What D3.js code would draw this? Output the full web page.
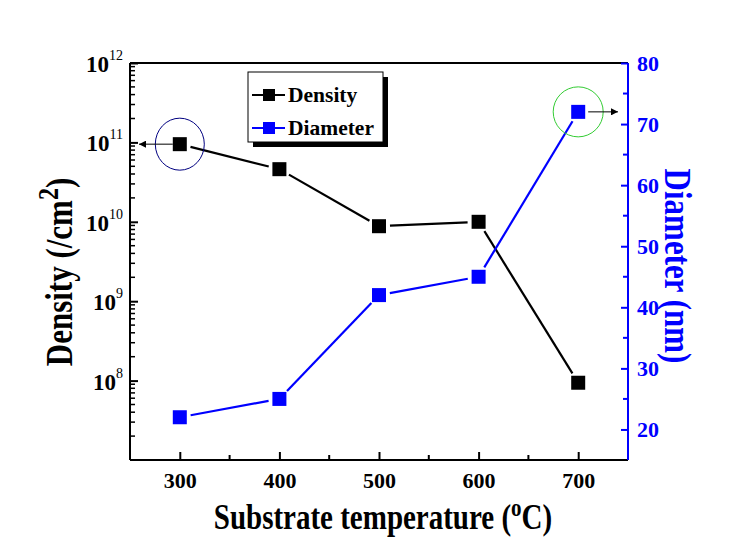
<!DOCTYPE html>
<html><head><meta charset="utf-8">
<script src="https://cdn.jsdelivr.net/npm/d3@7"></script>
<style>body{margin:0;background:#fff}svg{display:block}text{font-family:"Liberation Serif","Times New Roman",serif;font-weight:bold}</style>
</head><body><svg id="c" width="730" height="552"></svg>
<script>
const temps = [300, 400, 500, 600, 700];
const density = [9.5e10, 4.6e10, 8.8e9, 1.0e10, 9.4e7];
const diameter = [22, 25, 42, 45, 72];
const xTicks = [300, 400, 500, 600, 700];
const yLeftExps = [8, 9, 10, 11, 12];
const yRightTicks = [20, 30, 40, 50, 60, 70, 80];

const svg = d3.select("#c");
const L = 130, R = 628, T = 63, B = 460;
const x = d3.scaleLinear().domain([250, 750]).range([L, R]);
const yL = d3.scaleLog().domain([1e7, 1e12]).range([B, T]);
const yR = d3.scaleLinear().domain([15, 80]).range([B, T]);
const blue = "#0000ff";

svg.append("defs").html('<marker id="ah" viewBox="0 0 10 10" refX="10" refY="5" markerWidth="10" markerHeight="7" markerUnits="userSpaceOnUse" orient="auto"><path d="M0,0L10,5L0,10z" fill="#000"/></marker>');

// frame top
svg.append("line").attr("x1", L).attr("x2", R).attr("y1", T).attr("y2", T).attr("stroke", "#000").attr("stroke-width", 2);

// bottom axis
const minorX = d3.range(250, 751, 50).filter(v => v % 100 !== 0);
const gx = svg.append("g").attr("transform", `translate(0,${B})`);
gx.call(d3.axisBottom(x).tickValues(xTicks).tickSize(-8).tickPadding(12).tickFormat(d3.format("d")));
gx.select(".domain").attr("stroke-width", 2).attr("d", `M${L},0H${R}`);
gx.selectAll(".tick line").attr("stroke-width", 2);
gx.selectAll(".tick text").attr("font-size", 22).attr("fill", "#000").attr("font-family", "Liberation Serif").attr("font-weight", "bold");
gx.selectAll(".minor").data(minorX).enter().append("line").attr("x1", d => x(d)).attr("x2", d => x(d)).attr("y1", 0).attr("y2", -5).attr("stroke", "#000").attr("stroke-width", 2);

// left log axis
const minorL = [];
for (let e = 7; e < 12; e++) for (let m = 2; m <= 9; m++) minorL.push(m * Math.pow(10, e));
const gl = svg.append("g").attr("transform", `translate(${L},0)`);
gl.call(d3.axisLeft(yL).tickValues(yLeftExps.map(e => Math.pow(10, e))).tickSize(-8).tickFormat(""));
gl.select(".domain").attr("stroke-width", 2).attr("d", `M0,${T}V${B}`);
gl.selectAll(".tick line").attr("stroke-width", 2);
gl.selectAll(".minor").data(minorL).enter().append("line").attr("x1", 0).attr("x2", 5).attr("y1", d => yL(d)).attr("y2", d => yL(d)).attr("stroke", "#000").attr("stroke-width", 1.5);
yLeftExps.forEach(e => {
  const t = gl.append("text").attr("x", -7).attr("y", yL(Math.pow(10, e)) + 9).attr("text-anchor", "end").attr("fill", "#000");
  t.append("tspan").attr("font-size", 23).text("10");
  t.append("tspan").attr("font-size", 14).attr("font-weight", "normal").attr("dy", -12).text(e);
});

// right axis
const minorR = d3.range(25, 80, 10);
const gr = svg.append("g").attr("transform", `translate(${R},0)`);
gr.call(d3.axisRight(yR).tickValues(yRightTicks).tickSize(-7).tickPadding(9));
gr.select(".domain").attr("stroke", blue).attr("stroke-width", 2).attr("d", `M0,${T}V${B}`);
gr.selectAll(".tick line").attr("stroke", blue).attr("stroke-width", 2);
gr.selectAll(".tick text").attr("font-size", 22).attr("fill", blue).attr("font-family", "Liberation Serif").attr("font-weight", "bold");
gr.selectAll(".minor").data(minorR).enter().append("line").attr("x1", 0).attr("x2", -5).attr("y1", d => yR(d)).attr("y2", d => yR(d)).attr("stroke", blue).attr("stroke-width", 2);

// series with gaps
function series(vals, yS, color) {
  const pts = temps.map((t, i) => [x(t), yS(vals[i])]);
  const g = svg.append("g");
  for (let i = 0; i < pts.length - 1; i++) {
    const [x1, y1] = pts[i], [x2, y2] = pts[i + 1];
    const dx = x2 - x1, dy = y2 - y1, len = Math.hypot(dx, dy), gp = 11;
    g.append("line").attr("x1", x1 + dx / len * gp).attr("y1", y1 + dy / len * gp)
      .attr("x2", x2 - dx / len * gp).attr("y2", y2 - dy / len * gp)
      .attr("stroke", color).attr("stroke-width", 2.2);
  }
  g.selectAll("rect").data(pts).enter().append("rect")
    .attr("x", d => d[0] - 7).attr("y", d => d[1] - 7).attr("width", 14).attr("height", 14).attr("fill", color);
}
series(density, yL, "#000");
series(diameter, yR, blue);

// annotation circles & arrows
const c1 = [x(temps[0]), yL(density[0])];
svg.append("ellipse").attr("cx", c1[0]).attr("cy", c1[1]).attr("rx", 24.5).attr("ry", 26).attr("fill", "none").attr("stroke", "#000080").attr("stroke-width", 1);
svg.append("line").attr("x1", c1[0] - 7).attr("y1", c1[1]).attr("x2", L + 9).attr("y2", c1[1]).attr("stroke", "#000").attr("stroke-width", 1).attr("marker-end", "url(#ah)");
const c2 = [x(temps[4]), yR(diameter[4])];
svg.append("ellipse").attr("cx", c2[0]).attr("cy", c2[1]).attr("rx", 25).attr("ry", 25).attr("fill", "none").attr("stroke", "#33cc33").attr("stroke-width", 1);
svg.append("line").attr("x1", c2[0] + 10).attr("y1", c2[1]).attr("x2", R - 10).attr("y2", c2[1]).attr("stroke", "#000").attr("stroke-width", 1).attr("marker-end", "url(#ah)");

// legend
const lg = svg.append("g");
lg.append("rect").attr("x", 253).attr("y", 77).attr("width", 135).attr("height", 70).attr("fill", "#000");
lg.append("rect").attr("x", 248).attr("y", 72).attr("width", 135).attr("height", 70).attr("fill", "#fff").attr("stroke", "#000").attr("stroke-width", 1);
[["Density", "#000", 95], ["Diameter", blue, 128]].forEach(([n, c, yy]) => {
  lg.append("line").attr("x1", 252).attr("x2", 285).attr("y1", yy).attr("y2", yy).attr("stroke", c).attr("stroke-width", 2.2);
  lg.append("rect").attr("x", 263).attr("y", yy - 6).attr("width", 12).attr("height", 12).attr("fill", c);
  lg.append("text").attr("x", 288).attr("y", yy + 7).attr("font-size", 21.5).attr("fill", "#000").text(n);
});

// axis titles
const xt = svg.append("text").attr("transform", "translate(383,529) scale(1,1.2)").attr("text-anchor", "middle").attr("font-size", 29).attr("fill", "#000");
xt.append("tspan").text("Substrate temperature (");
xt.append("tspan").attr("font-size", 21).attr("dy", -11).text("o");
xt.append("tspan").attr("dy", 11).text("C)");

const ylt = svg.append("text").attr("transform", "translate(72,272) rotate(-90) scale(1,1.2)").attr("text-anchor", "middle").attr("font-size", 31).attr("fill", "#000");
ylt.append("tspan").text("Density (/cm");
ylt.append("tspan").attr("font-size", 24).attr("dy", -12).text("2");
ylt.append("tspan").attr("dy", 12).text(")");

svg.append("text").attr("transform", "translate(665,266) rotate(90) scale(1,1.2)").attr("text-anchor", "middle").attr("font-size", 31).attr("fill", blue).text("Diameter (nm)");
</script></body></html>
